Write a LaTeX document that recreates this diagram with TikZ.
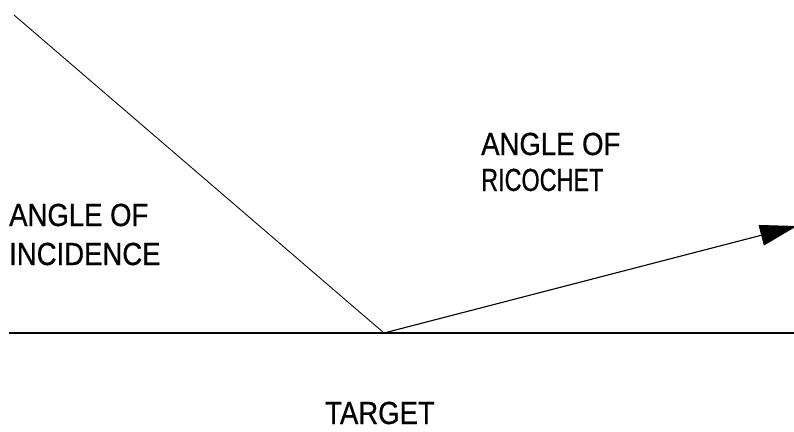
\documentclass[tikz,border=0pt]{standalone}
\usepackage{fontspec}
\newfontfamily\labfont[FakeStretch=0.86,FakeBold=0.6]{Liberation Sans}
\usetikzlibrary{arrows.meta}
\begin{document}
\begin{tikzpicture}[x=1pt,y=-1pt,
  lab/.style={anchor=base west,inner sep=0pt,font=\labfont\fontsize{32}{32}\selectfont},
  thinline/.style={line width=0.9pt,black},
  ground/.style={line width=2.4pt,black}]
\useasboundingbox (0,0) rectangle (794,431);
\coordinate (start) at (14,15);
\coordinate (hit) at (384,333);
\coordinate (gl) at (9,333);
\coordinate (gr) at (794,333);
\coordinate (tip) at (797,226);
\draw[ground] (gl) -- (gr);
\draw[thinline] (start) -- (hit);
\draw[line width=1.1pt,-{Triangle[length=37pt,width=21pt]}] (hit) -- (tip);
\node[lab] (ai1) at (9,226) {ANGLE OF};
\node[lab] (ai2) at (9,265) {INCIDENCE};
\node[lab] (ar1) at (481,155) {ANGLE OF};
\node[lab] (ar2) at (481,191) {\scalebox{0.85}[1]{RICOCHET}};
\node[lab] (tg) at (325,424) {TARGET};
\end{tikzpicture}
\end{document}
